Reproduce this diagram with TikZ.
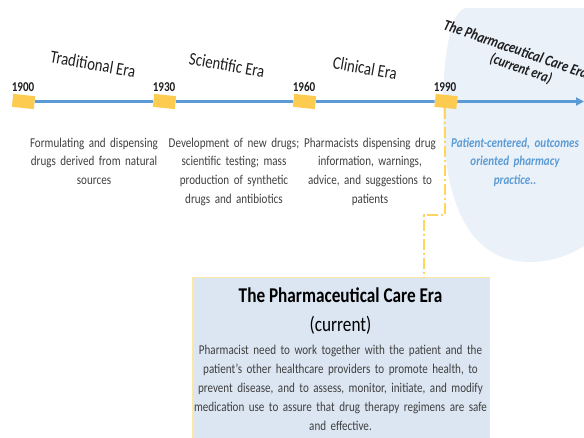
\documentclass[tikz,border=0pt]{standalone}
\usepackage{fontspec}
\setmainfont{Carlito}[FakeStretch=0.82]
\usetikzlibrary{arrows.meta}

\definecolor{lineblue}{HTML}{5B9BD5}
\definecolor{markyellow}{HTML}{FDCB50}
\definecolor{linkyellow}{HTML}{FFD659}
\definecolor{halofill}{HTML}{EAF1F9}
\definecolor{boxfill}{HTML}{DCE6F2}
\definecolor{boxedge}{HTML}{FBE7A6}
\definecolor{bodygray}{HTML}{3F3F3F}
\definecolor{labelblack}{HTML}{1E1E1E}

\begin{document}
\begin{tikzpicture}[x=1pt,y=-1pt,
  timeline/.style={draw=lineblue, line width=2.6pt},
  marker/.style={fill=markyellow, minimum width=22pt, minimum height=13pt,
                 inner sep=0pt, rotate=-6},
  yearlabel/.style={font=\fontsize{13.5}{16}\selectfont\bfseries, text=labelblack,
                    anchor=base, inner sep=0pt},
  eralabel/.style={font=\fontsize{18}{22}\selectfont, text=labelblack,
                   inner sep=0pt, rotate=-10},
  nowlabel/.style={font=\fontsize{15.5}{19}\selectfont\bfseries\itshape,
                   text=labelblack, inner sep=0pt, rotate=-19},
  desc/.style={font=\fontsize{13.5}{18.7}\selectfont, text=bodygray,
               text width=160pt, align=center, anchor=base, inner sep=0pt},
  nowdesc/.style={desc, text=lineblue, font=\fontsize{13.5}{18.7}\selectfont\bfseries\itshape},
  link/.style={draw=linkyellow, line width=1.8pt,
               dash pattern=on 11pt off 3pt on 2pt off 3pt},
  carebox/.style={fill=boxfill, draw=boxedge, line width=0.9pt,
                  minimum width=297pt, minimum height=170pt, inner sep=0pt},
  caretitle/.style={font=\fontsize{21}{25}\selectfont\bfseries, text=black,
                    anchor=base, inner sep=0pt},
  carecur/.style={font=\fontsize{21}{25}\selectfont, text=black,
                  anchor=base, inner sep=0pt},
  carebody/.style={font=\fontsize{13.5}{19}\selectfont, text=bodygray,
                   text width=340pt, align=center, anchor=base, inner sep=0pt}
]
\useasboundingbox (0,0) rectangle (584,437);

% soft halo behind the current era
\fill[halofill] (584,8) -- (466,8)
  .. controls (452,10) and (443,50) .. (443,110)
  .. controls (443,205) and (470,262) .. (530,262)
  .. controls (555,262) and (575,252) .. (584,246) -- cycle;

% era markers on the time line
\node[marker] (m1900) at (23.5,101.5) {};
\node[marker] (m1930) at (164.5,101.5) {};
\node[marker] (m1960) at (304.5,101.5) {};
\node[marker] (m1990) at (446,101.5) {};
\coordinate (tlend) at (584,101.5);

\draw[timeline] (m1900) -- (m1930);
\draw[timeline] (m1930) -- (m1960);
\draw[timeline] (m1960) -- (m1990);
\draw[timeline, -{Triangle[length=8pt,width=8pt]}] (m1990) -- (tlend);

% years
\node[yearlabel] (y1900) at (23,91.5) {1900};
\node[yearlabel] (y1930) at (164,91.5) {1930};
\node[yearlabel] (y1960) at (304,91.5) {1960};
\node[yearlabel] (y1990) at (445,91.5) {1990};

% era names
\node[eralabel] (eTrad) at (93,64) {Traditional Era};
\node[eralabel] (eSci) at (227,65) {Scientific Era};
\node[eralabel] (eClin) at (365,68) {Clinical Era};
\node[nowlabel] (eNow) at (516,49) {The Pharmaceutical Care Era};
\node[nowlabel, font=\fontsize{15}{19}\selectfont\bfseries\itshape] (eNowSub) at (521,69) {(current era)};

% era descriptions
\node[desc] (dTrad) at (94,147) {Formulating and dispensing\\drugs derived from natural\\sources};
\node[desc] (dSci) at (234,147) {Development of new drugs;\\scientific testing; mass\\production of synthetic\\drugs and antibiotics};
\node[desc] (dClin) at (370,147) {Pharmacists dispensing drug\\information, warnings,\\advice, and suggestions to\\patients};
\node[nowdesc] (dNow) at (515,147) {Patient-centered, outcomes\\oriented pharmacy\\practice..};

% detail box for the current era
\node[carebox, anchor=north west] (care) at (192,277) {};
\node[caretitle] (careT) at (340.5,302.7) {The Pharmaceutical Care Era};
\node[carecur] (careC) at (340.5,331.7) {(current)};
\node[carebody] (careB) at (340.5,354) {Pharmacist need to work together with the patient and the\\
patient’s other healthcare providers to promote health, to\\
prevent disease, and to assess, monitor, initiate, and modify\\
medication use to assure that drug therapy regimens are safe\\
and effective.};

% dash-dot link from 1990 down to the box
\coordinate (elbow) at (424,215);
\draw[link] (m1990.south) -- (m1990.south |- elbow) -- (elbow) -- (elbow |- care.north);
\end{tikzpicture}
\end{document}
